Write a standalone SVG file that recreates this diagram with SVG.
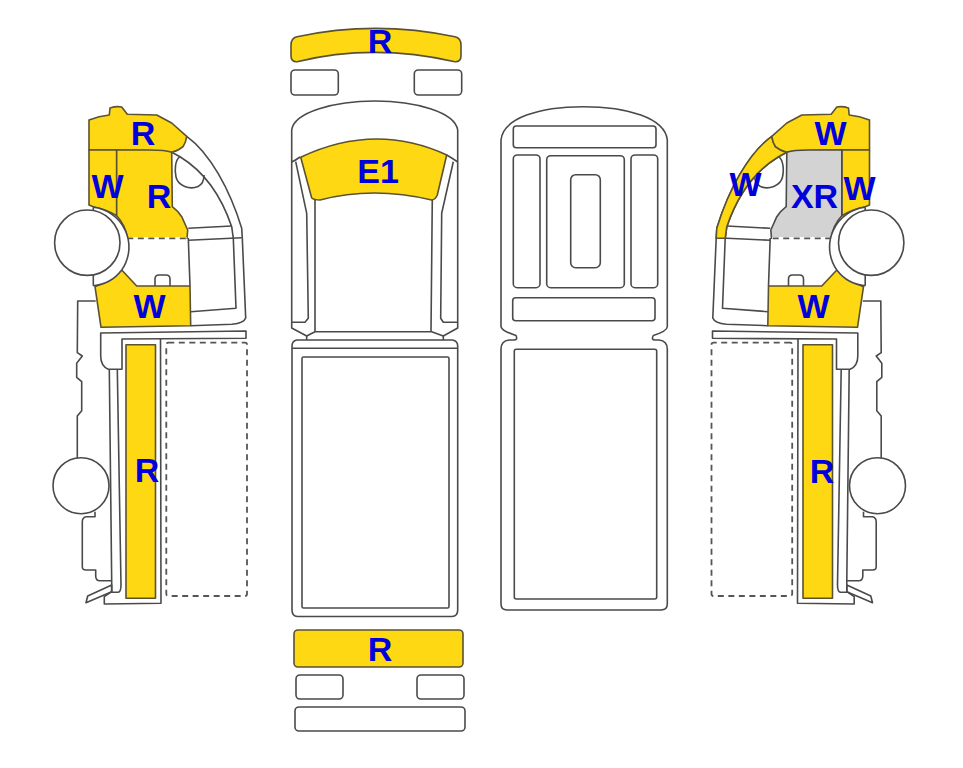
<svg xmlns="http://www.w3.org/2000/svg" width="963" height="768" viewBox="0 0 963 768">
<style>
.l{fill:none;stroke:#4a4a4a;stroke-width:1.6;stroke-linejoin:round}
.w{fill:#fff;stroke:#4a4a4a;stroke-width:1.6;stroke-linejoin:round}
.y{fill:#ffd814;stroke:#5a5230;stroke-width:1.6;stroke-linejoin:round}
.g{fill:#d3d3d3;stroke:#4a4a4a;stroke-width:1.6;stroke-linejoin:round}
.d{fill:none;stroke:#555;stroke-width:1.8;stroke-dasharray:6 4.5}
.e{fill:none;stroke:#fff;stroke-width:2.4}
text{font-family:"Liberation Sans",Arial,sans-serif;font-weight:700;font-size:34px;fill:#0000dc;text-anchor:middle}
</style>
<defs>
<g id="chassis">
<path class="l" d="M95.7,301H77.7L77.3,352.7L82.3,356L76.7,363.3V377.3L81.7,381.7V410.7L77.3,416V458"/>
<path class="l" d="M95,511.7V516.7H86Q82.3,517.5 82.3,521.7V566.7Q82.3,570 86,570H95.7V576Q95.7,580.7 100,580.7H111.7"/>
<circle class="w" cx="81" cy="485.7" r="28"/>
<path class="w" d="M111.7,585L87.7,596L86,602.7L111.7,591.7Z"/>
<path class="l" d="M109.3,369.3L111.7,580.7V592.3H118Q121,592 121,585L117.3,369.3"/>
<path class="l" d="M100.7,333L246,331V338.3L122,339V369.3H108.3Q100.7,366 100.7,356Z"/>
<path class="l" d="M160.5,339L161,603.3L104.3,604V596.7L111.7,591.7"/>
<rect class="d" x="166.3" y="342.7" width="80.7" height="253.3" rx="2"/>
</g>
<g id="cabLines">
<path class="l" d="M186.7,136.3C210,153 230,190 241.7,228.3L242.3,238.3L245.7,318Q244,323 232,324.3L190.7,325.7"/>
<path class="l" d="M171.7,152.3L180,156.7C205,172 222,198 231.7,226.7L233.3,238.3L236,308.3L190.7,311.7"/>
<path class="l" d="M188.3,228.3L231.7,226M188.3,240.3L241.7,237.7M188.3,238L190,286"/>
<path class="l" d="M155,286V279Q155,275 159,275H166Q170,275 170,279V286"/>
<path class="l" d="M180,156.7C175,160 174.5,170 176,177C178,186 190,190 198,186.5C202,184.5 204,180 204,175"/>
</g>
<path id="stripShape" d="M186.7,136.3C210,153 230,190 241.7,228.3L242.3,238.3H233.3L231.7,226.7C222,198 205,172 180,156.7L171.7,152.3L183,146.7Q186,142 186.7,136.3Z"/>
<path id="capShape" d="M89,120Q99,116 109.3,115L110,108Q116,106 121.7,107L127.3,114.3L156.7,115L171.7,123L186.7,136.3Q186,142 183,146.7Q178,151 171.7,152.3Q150,150 116.7,150H89Z"/>
<path id="doorShape" d="M116.7,150H150Q165,150 171.7,152.3L172.3,206.7Q178,211 181.7,216.7L187.7,230L187,238.3H127.3A40,40 0 0 0 116.7,215.7Z"/>
<path id="fenderShape" d="M89,150H116.7V215.7Q106,209 93.3,206.7L89,205Z"/>
<path id="sillShape" d="M121.7,270L136.7,286H190L190.7,325.7L101,327.3L95,286.7Q110,281 121.7,270Z"/>
<g id="archWheel">
<path class="e" d="M128,238.3H186.5"/>
<path class="d" d="M127.3,238.3H187"/>
<path class="w" d="M93.3,207.3A40,40 0 0 1 121.7,270A40,40 0 0 1 93.3,285.7"/>
<path class="l" d="M93.3,207.3V212M93.3,273V285.7"/>
<circle class="w" cx="87.3" cy="242.7" r="32.7"/>
</g>
</defs>

<g id="left-side">
<use href="#chassis"/>
<use href="#cabLines"/>
<use href="#capShape" class="y"/>
<use href="#fenderShape" class="y"/>
<use href="#doorShape" class="y"/>
<use href="#sillShape" class="y"/>
<use href="#archWheel"/>
<rect class="y" x="126" y="344.7" width="29.5" height="253.6"/>
<text x="143" y="145">R</text>
<text x="107.5" y="198.3">W</text>
<text x="159" y="208">R</text>
<text x="149.5" y="317.7">W</text>
<text x="147" y="481.7">R</text>
</g>

<g id="front-view">
<path class="y" d="M291,45Q291,38 297,36.7Q375,20 455,36.7Q461,38 461,45V56Q461,62 455,61.7Q373,43 297,61.7Q291,62 291,56Z"/>
<rect class="w" x="291" y="70" width="47.3" height="25" rx="4"/>
<rect class="w" x="414.3" y="70" width="47.4" height="25" rx="4"/>
<path class="w" d="M291.7,328V130C294,112 335,101 375,101C415,101 455,112 457.7,130V328L443.3,336L431.7,331.7H315L306.7,336Z"/>
<path class="l" d="M291.7,162Q296,160 300,157M446.7,155Q452,158 457.7,162"/>
<path class="l" d="M295.7,161.7L306.7,213.3L308.3,318.3L305,322.3H291.7M453.3,161.7L441.7,213.3L440.7,318.3L443.3,322.3H457.7"/>
<path class="l" d="M315,198V331.7M432.3,198L431,331.7"/>
<path class="y" d="M300.7,157.3Q375,122 446.7,155L437.3,195Q435,200 431.7,200Q373,186 320,200Q314,200 311.7,198Z"/>
<path class="l" d="M306.7,336V340M443.3,336V340"/>
<path class="w" d="M296.7,340H452.5Q457.7,341 457.7,346V610Q457.7,616.5 452,616.5H297.5Q292,616.5 292,610V346Q292,341 296.7,340Z"/>
<path class="l" d="M292,348.3H457.7"/>
<rect class="w" x="302" y="357" width="147" height="251" rx="1.5"/>
<text x="380" y="52.7">R</text>
<text x="378" y="183.3">E1</text>
</g>

<g id="rear-view">
<rect class="y" x="294" y="630" width="169" height="37" rx="4"/>
<rect class="w" x="296" y="675" width="47" height="24" rx="4"/>
<rect class="w" x="417" y="675" width="47" height="24" rx="4"/>
<rect class="w" x="295" y="707" width="170" height="24" rx="4"/>
<text x="380" y="661">R</text>
</g>

<g id="top-view">
<path class="l" d="M501,326.7V140C503,118 540,106.7 583.3,106.7C627,106.7 665,118 667.3,140V326.7Q667,331 653.3,335.5Q651,340 655,340H659Q667.3,341 667.3,349V604Q667.3,610 661,610H507Q501,610 501,604V349Q501,341 509,340H514Q518,340 516,335.5Q502,331 501,326.7Z"/>
<rect class="l" x="513.3" y="126" width="142.7" height="21.7" rx="3"/>
<rect class="l" x="513.3" y="155" width="26.7" height="132.7" rx="4"/>
<rect class="l" x="546.7" y="155.7" width="77.6" height="132" rx="4"/>
<rect class="l" x="570.7" y="174.7" width="29.6" height="93" rx="5"/>
<rect class="l" x="631" y="155" width="26.7" height="132.7" rx="4"/>
<rect class="l" x="512.7" y="297.7" width="142.3" height="23" rx="3"/>
<rect class="l" x="514.3" y="349.3" width="142.4" height="249.7" rx="2"/>
</g>

<g id="right-side">
<g transform="matrix(-1 0 0 1 958.5 0)">
<use href="#chassis"/>
<use href="#cabLines"/>
<use href="#stripShape" class="y"/>
<use href="#capShape" class="y"/>
<use href="#fenderShape" class="y"/>
<use href="#doorShape" class="g"/>
<use href="#sillShape" class="y"/>
<use href="#archWheel"/>
<rect class="y" x="126" y="344.7" width="29.5" height="253.6"/>
</g>
<text x="830.5" y="145">W</text>
<text x="745.5" y="196">W</text>
<text x="814.5" y="208">XR</text>
<text x="859.5" y="200">W</text>
<text x="813.5" y="317.7">W</text>
<text x="822" y="483">R</text>
</g>
</svg>
